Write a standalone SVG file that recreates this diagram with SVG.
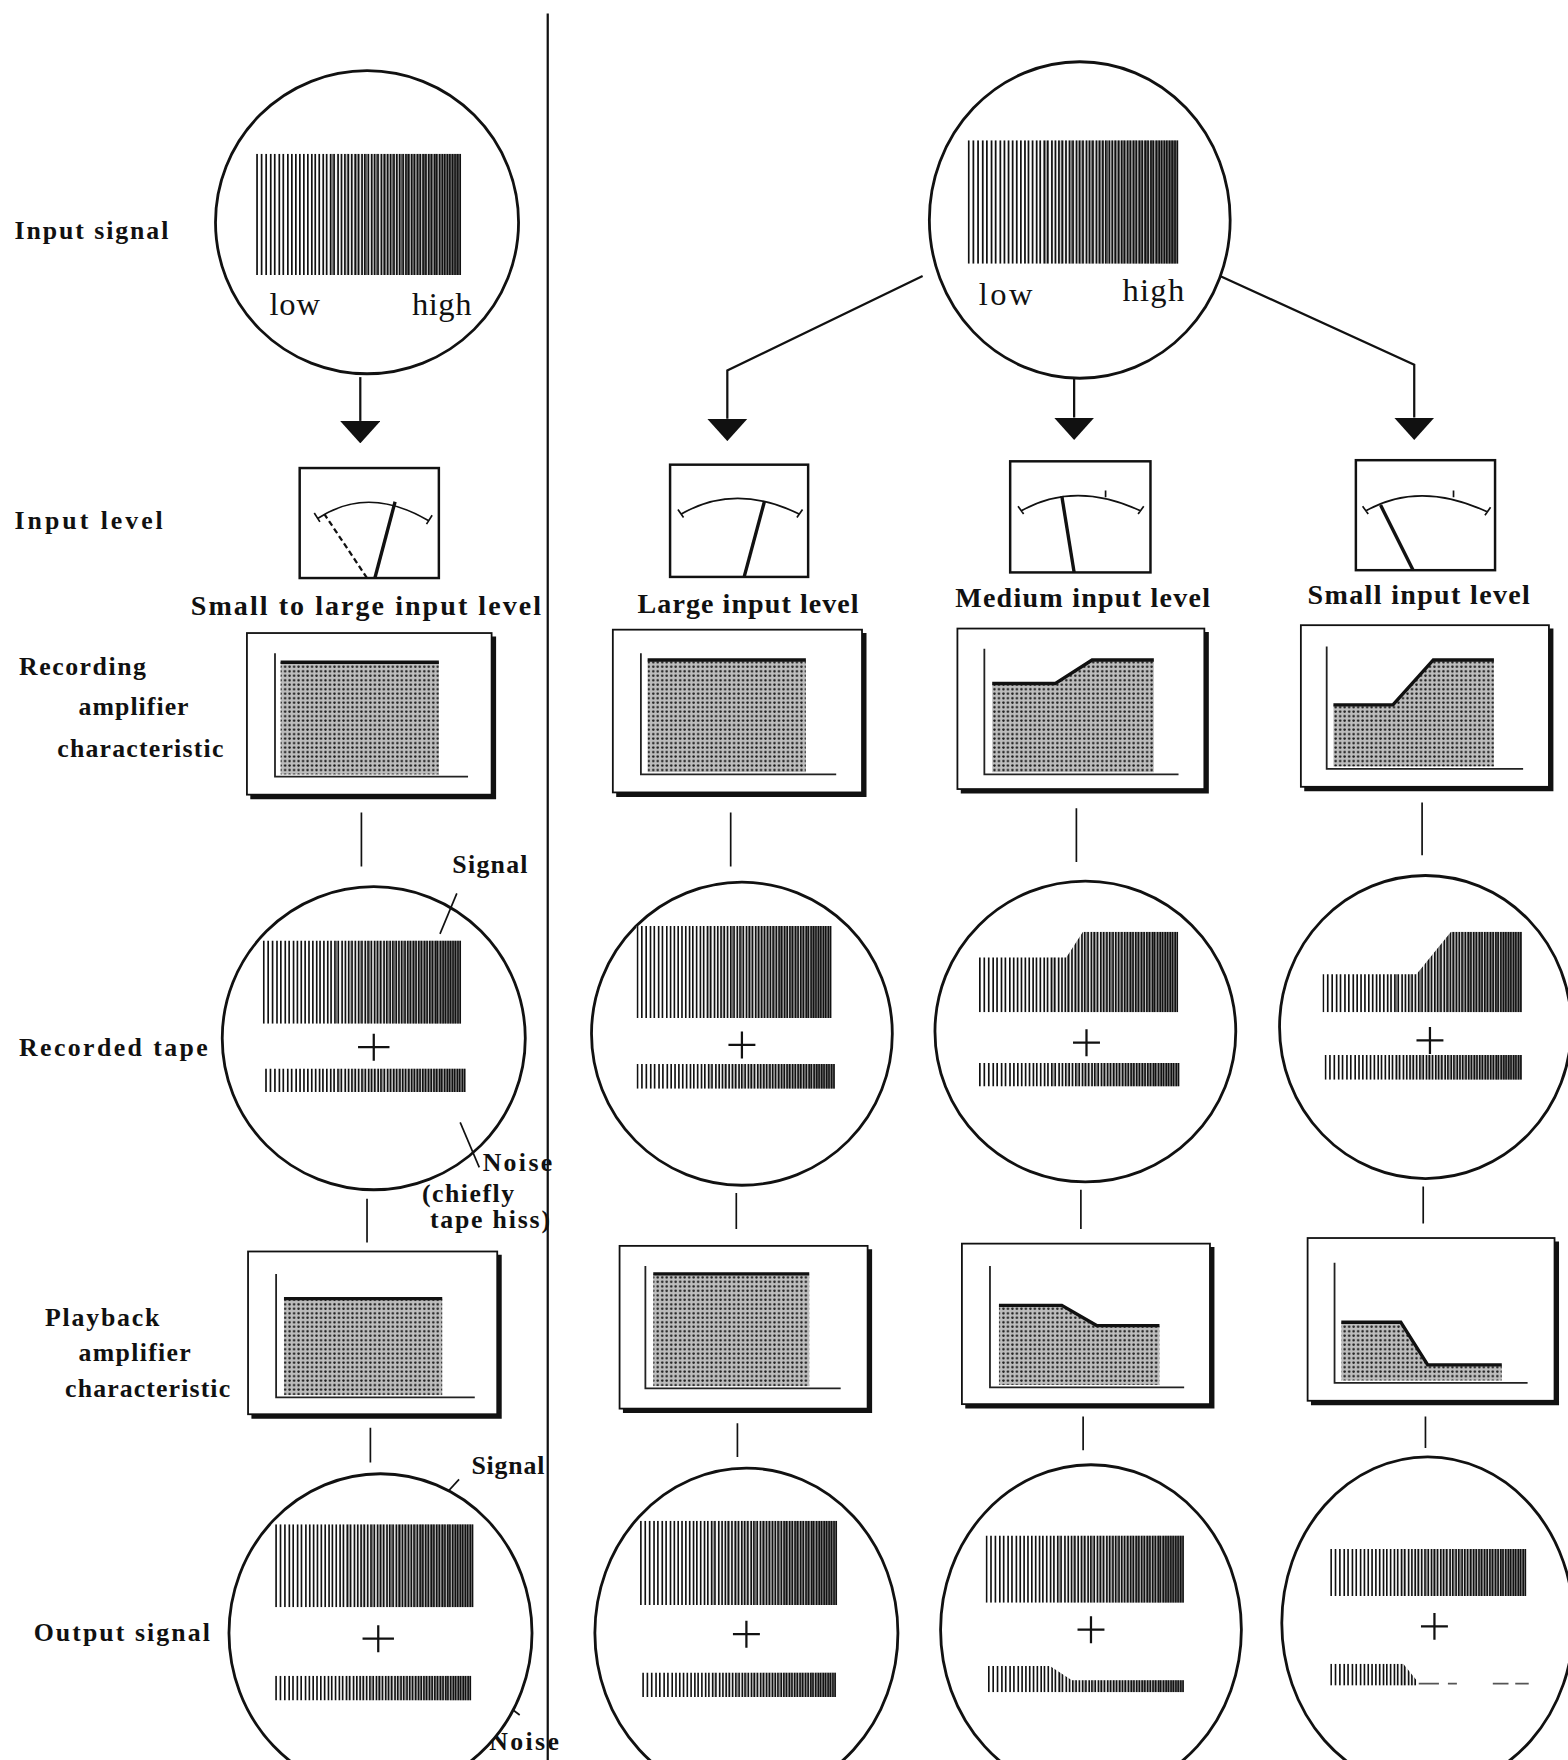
<svg xmlns="http://www.w3.org/2000/svg" xmlns:xlink="http://www.w3.org/1999/xlink" width="1568" height="1760" viewBox="0 0 1568 1760">
<style>
.lbl{font-family:"Liberation Serif","DejaVu Serif",serif;font-weight:bold;font-size:23px;fill:#111}
.big{font-size:25px}
.lh{font-family:"Liberation Serif","DejaVu Serif",serif;font-size:29px;fill:#111}
.ln{stroke:#111;stroke-width:2;fill:none}
.circ{fill:#fff;stroke:#111;stroke-width:2.5}
.frame{fill:#fff;stroke:#111;stroke-width:1.6}
.shadow{fill:none;stroke:#111;stroke-width:4}
.axis{fill:none;stroke:#222;stroke-width:1.6}
.top{fill:none;stroke:#111;stroke-width:3}
.meter{fill:#fff;stroke:#111;stroke-width:2.2}
.needle{stroke:#111;stroke-width:3;fill:none}
.thin{stroke:#111;stroke-width:1.5;fill:none}
.plus{stroke:#111;stroke-width:2;fill:none}
</style>
<defs>
<linearGradient id="gr" x1="0" y1="0" x2="1" y2="0">
<stop offset="0.3" stop-color="#fff"/>
<stop offset="1" stop-color="#b0b0b0"/>
</linearGradient>
<pattern id="dots" width="4" height="4" patternUnits="userSpaceOnUse">
<rect width="4" height="4" fill="#bdbdbd"/>
<circle cx="2" cy="2" r="1.1" fill="#1a1a1a"/>
</pattern>
<symbol id="sig" viewBox="0 0 180 100" preserveAspectRatio="none">
<rect width="180" height="100" fill="url(#gr)"/>
<path stroke="#111" stroke-width="1.5" d="M1 0V100M5 0V100M9 0V100M13 0V100M16.5 0V100M20.5 0V100M24 0V100M28 0V100M31.5 0V100M35 0V100M38.5 0V100M42 0V100M45.5 0V100M49 0V100M52 0V100M55.5 0V100M59 0V100M62 0V100M65.5 0V100M68.5 0V100M72 0V100M75 0V100M78 0V100M81 0V100M84 0V100M87 0V100M90 0V100M93 0V100M95.5 0V100M98.5 0V100M101.5 0V100M104 0V100M107 0V100M110 0V100M112.5 0V100M115.5 0V100M118 0V100M121 0V100M123.5 0V100M126 0V100M129 0V100M131.5 0V100M134 0V100M136.5 0V100M139 0V100M141.5 0V100M144 0V100M146.5 0V100M149 0V100M151.5 0V100M154 0V100M156.5 0V100M158.5 0V100M161 0V100M163.5 0V100M165.5 0V100M168 0V100M170 0V100M172.5 0V100M174.5 0V100M177 0V100M179 0V100"/>
<path stroke="#333" stroke-width="0.7" d="M66.9 0V100M80 0V100M88.5 0V100M96.8 0V100M105.5 0V100M113.8 0V100M119.5 0V100M127.5 0V100M132.8 0V100M137.8 0V100M142.8 0V100M147.8 0V100M152.8 0V100M157.5 0V100M162.3 0V100M166.8 0V100M171.2 0V100M175.8 0V100"/>
</symbol>
<marker id="arr" viewBox="0 0 20 36" refX="0" refY="18" markerWidth="20" markerHeight="36" markerUnits="userSpaceOnUse" orient="auto">
<path d="M0,0 L20,18 L0,36 Z" fill="#111"/>
</marker>
<clipPath id="cD2"><polygon points="872,902 872,853 950,853 965,830 1050,830 1050,902"/></clipPath>
<clipPath id="cD3"><polygon points="1178,902 1178,868 1262,868 1293,830 1356,830 1356,902"/></clipPath>
<clipPath id="cF2"><polygon points="880,1508 880,1484 935,1484 955,1497 1055,1497 1055,1508"/></clipPath>
<clipPath id="cF3"><polygon points="1185,1502 1185,1482 1250,1482 1262,1497 1262,1502"/></clipPath>
</defs>
<rect width="1568" height="1760" fill="#fff"/>
<g transform="scale(1.12241)">

<g id="divider"><line x1="488" y1="12" x2="488" y2="1568" stroke="#111" stroke-width="2"/></g>

<g id="row-labels">
<text class="lbl" x="13" y="213" textLength="137">Input  signal</text>
<text class="lbl" x="13" y="471" textLength="132">Input level</text>
<text class="lbl" x="17" y="601" textLength="113">Recording</text>
<text class="lbl" x="70" y="637" textLength="98">amplifier</text>
<text class="lbl" x="51" y="674" textLength="148">characteristic</text>
<text class="lbl" x="17" y="941" textLength="168">Recorded  tape</text>
<text class="lbl" x="40" y="1181" textLength="102">Playback</text>
<text class="lbl" x="70" y="1213" textLength="100">amplifier</text>
<text class="lbl" x="58" y="1245" textLength="147">characteristic</text>
<text class="lbl" x="30" y="1462" textLength="157">Output  signal</text>
</g>

<g id="connectors">
<path class="ln" d="M321,336 V375" marker-end="url(#arr)"/>
<path class="ln" d="M822,246 L648,330 V373" marker-end="url(#arr)"/>
<path class="ln" d="M957,337 V372" marker-end="url(#arr)"/>
<path class="ln" d="M1085,245 L1260,325 V372" marker-end="url(#arr)"/>
<path class="thin" d="M322,724 V772 M327,1068 V1107 M330,1272 V1303 M651,724 V772 M959,720 V768 M1267,715 V762 M656,1063 V1095 M963,1060 V1095 M1268,1057 V1090 M657,1268 V1298 M965,1262 V1292 M1270,1262 V1290"/>
</g>

<g id="input-signal-left">
<circle class="circ" cx="327" cy="198" r="135"/>
<use href="#sig" x="228" y="137" width="183" height="108"/>
<text class="lh" x="240" y="281" textLength="45">low</text>
<text class="lh" x="367" y="281" textLength="53">high</text>
</g>

<g id="input-signal-right">
<ellipse class="circ" cx="962" cy="196" rx="134" ry="141"/>
<use href="#sig" x="862" y="125" width="188" height="110"/>
<text class="lh" x="872" y="272" textLength="48">low</text>
<text class="lh" x="1000" y="268" textLength="55">high</text>
</g>

<g id="meter-left">
<rect class="meter" x="267" y="417" width="124" height="98"/>
<path class="thin" d="M283,462 Q328,432 382,464 M280,457 L285,465 M385,459 L380,467"/>
<path class="needle" d="M334,515 L352,447"/>
<path d="M327,515 L289,458" stroke="#111" stroke-width="2" stroke-dasharray="5 3" fill="none"/>
<text class="lbl big" x="170" y="548" textLength="312">Small to large input level</text>
</g>

<g id="meter-large">
<rect class="meter" x="597" y="414" width="123" height="100"/>
<path class="thin" d="M607,458 Q655,430 712,458 M604,454 L609,461 M715,454 L710,461"/>
<path class="needle" d="M663,514 L681,447"/>
<text class="lbl big" x="568" y="546" textLength="197">Large  input  level</text>
</g>

<g id="meter-medium">
<rect class="meter" x="900" y="411" width="125" height="99"/>
<path class="thin" d="M910,455 Q958,428 1016,455 M907,451 L912,458 M1019,451 L1014,458 M985,437 V443"/>
<path class="needle" d="M957,510 L946,442"/>
<text class="lbl big" x="851" y="541" textLength="227">Medium  input  level</text>
</g>

<g id="meter-small">
<rect class="meter" x="1208" y="410" width="124" height="98"/>
<path class="thin" d="M1217,455 Q1265,428 1325,456 M1214,451 L1219,458 M1328,452 L1323,459 M1295,437 V443"/>
<path class="needle" d="M1259,508 L1230,450"/>
<text class="lbl big" x="1165" y="538" textLength="198">Small  input  level</text>
</g>

<g id="rec-amp-left">
<rect class="frame" x="220" y="564" width="218" height="144"/>
<path class="shadow" d="M440,567 V710 H223"/>
<rect x="250" y="590" width="141" height="100" fill="url(#dots)"/>
<path class="top" d="M250,590 H391"/>
<path class="axis" d="M245,582 V692 H417"/>
</g>

<g id="rec-amp-large">
<rect class="frame" x="546" y="561" width="222" height="145"/>
<path class="shadow" d="M770,564 V708 H549"/>
<rect x="577" y="588" width="141" height="100" fill="url(#dots)"/>
<path class="top" d="M577,588 H718"/>
<path class="axis" d="M571,582 V690 H745"/>
</g>

<g id="rec-amp-medium">
<rect class="frame" x="853" y="560" width="220" height="143"/>
<path class="shadow" d="M1075,563 V705 H856"/>
<polygon points="884,688 884,609 940,609 973,588 1028,588 1028,688" fill="url(#dots)"/>
<path class="top" d="M884,609 H940 L973,588 H1028"/>
<path class="axis" d="M877,578 V690 H1050"/>
</g>

<g id="rec-amp-small">
<rect class="frame" x="1159" y="557" width="221" height="144"/>
<path class="shadow" d="M1382,560 V703 H1162"/>
<polygon points="1188,683 1188,628 1241,628 1277,588 1331,588 1331,683" fill="url(#dots)"/>
<path class="top" d="M1188,628 H1241 L1277,588 H1331"/>
<path class="axis" d="M1182,576 V685 H1357"/>
</g>

<g id="tape-left">
<circle class="circ" cx="333" cy="925" r="135"/>
<use href="#sig" x="234" y="838" width="177" height="74"/>
<path class="plus" d="M319,933 H347 M333,921 V945"/>
<use href="#sig" x="236" y="952" width="179" height="21"/>
</g>

<g id="tape-large">
<ellipse class="circ" cx="661" cy="921" rx="134" ry="135"/>
<use href="#sig" x="567" y="825" width="174" height="82"/>
<path class="plus" d="M649,931 H673 M661,919 V943"/>
<use href="#sig" x="567" y="948" width="177" height="22"/>
</g>

<g id="tape-medium">
<circle class="circ" cx="967" cy="919" r="134"/>
<g clip-path="url(#cD2)"><use href="#sig" x="872" y="830" width="178" height="72"/></g>
<path class="plus" d="M956,929 H980 M968,917 V941"/>
<use href="#sig" x="872" y="947" width="179" height="21"/>
</g>

<g id="tape-small">
<ellipse class="circ" cx="1270" cy="915" rx="130" ry="135"/>
<g clip-path="url(#cD3)"><use href="#sig" x="1178" y="830" width="178" height="72"/></g>
<path class="plus" d="M1262,927 H1286 M1274,915 V939"/>
<use href="#sig" x="1180" y="940" width="176" height="22"/>
</g>

<g id="annotations">
<text class="lbl" x="403" y="778" textLength="67">Signal</text>
<path class="thin" d="M407,796 L392,832"/>
<path class="thin" d="M410,1000 L427,1040"/>
<text class="lbl" x="430" y="1043" textLength="62">Noise</text>
<text class="lbl" x="376" y="1071" textLength="82">(chiefly</text>
<text class="lbl" x="383" y="1094" textLength="107">tape  hiss)</text>
<text class="lbl" x="420" y="1313" textLength="65">Signal</text>
<path class="thin" d="M409,1318 L387,1342"/>
<path class="thin" d="M433,1505 L463,1528"/>
<text class="lbl" x="436" y="1559" textLength="62">Noise</text>
</g>

<g id="play-amp-left">
<rect class="frame" x="221" y="1115" width="222" height="145"/>
<path class="shadow" d="M445,1118 V1262 H224"/>
<rect x="253" y="1157" width="141" height="86" fill="url(#dots)"/>
<path class="top" d="M253,1157 H394"/>
<path class="axis" d="M246,1135 V1245 H423"/>
</g>

<g id="play-amp-large">
<rect class="frame" x="552" y="1110" width="221" height="145"/>
<path class="shadow" d="M775,1113 V1257 H555"/>
<rect x="582" y="1135" width="139" height="100" fill="url(#dots)"/>
<path class="top" d="M582,1135 H721"/>
<path class="axis" d="M575,1128 V1237 H749"/>
</g>

<g id="play-amp-medium">
<rect class="frame" x="857" y="1108" width="221" height="143"/>
<path class="shadow" d="M1080,1111 V1253 H860"/>
<polygon points="890,1234 890,1163 946,1163 977,1181 1033,1181 1033,1234" fill="url(#dots)"/>
<path class="top" d="M890,1163 H946 L977,1181 H1033"/>
<path class="axis" d="M882,1128 V1236 H1055"/>
</g>

<g id="play-amp-small">
<rect class="frame" x="1165" y="1103" width="220" height="145"/>
<path class="shadow" d="M1387,1106 V1250 H1168"/>
<polygon points="1195,1230 1195,1178 1248,1178 1272,1216 1338,1216 1338,1230" fill="url(#dots)"/>
<path class="top" d="M1195,1178 H1248 L1272,1216 H1338"/>
<path class="axis" d="M1189,1125 V1232 H1361"/>
</g>

<g id="output-left">
<ellipse class="circ" cx="339" cy="1455" rx="135" ry="142"/>
<use href="#sig" x="245" y="1358" width="177" height="74"/>
<path class="plus" d="M323,1460 H351 M337,1448 V1472"/>
<use href="#sig" x="245" y="1493" width="175" height="22"/>
</g>

<g id="output-large">
<ellipse class="circ" cx="665" cy="1455" rx="135" ry="147"/>
<use href="#sig" x="570" y="1355" width="176" height="75"/>
<path class="plus" d="M653,1456 H677 M665,1444 V1468"/>
<use href="#sig" x="572" y="1490" width="173" height="22"/>
</g>

<g id="output-medium">
<ellipse class="circ" cx="972" cy="1452" rx="134" ry="147"/>
<use href="#sig" x="878" y="1368" width="177" height="60"/>
<path class="plus" d="M960,1452 H984 M972,1440 V1464"/>
<g clip-path="url(#cF2)"><use href="#sig" x="880" y="1484" width="175" height="24"/></g>
</g>

<g id="output-small">
<ellipse class="circ" cx="1272" cy="1446" rx="130" ry="148"/>
<use href="#sig" x="1185" y="1380" width="175" height="42"/>
<path class="plus" d="M1266,1449 H1290 M1278,1437 V1461"/>
<g clip-path="url(#cF3)"><use href="#sig" x="1185" y="1482" width="175" height="20"/></g>
<path d="M1264,1500 H1282 M1290,1500 H1298 M1330,1500 H1344 M1350,1500 H1362" stroke="#555" stroke-width="1.5" fill="none"/>
</g>

</g>
</svg>
